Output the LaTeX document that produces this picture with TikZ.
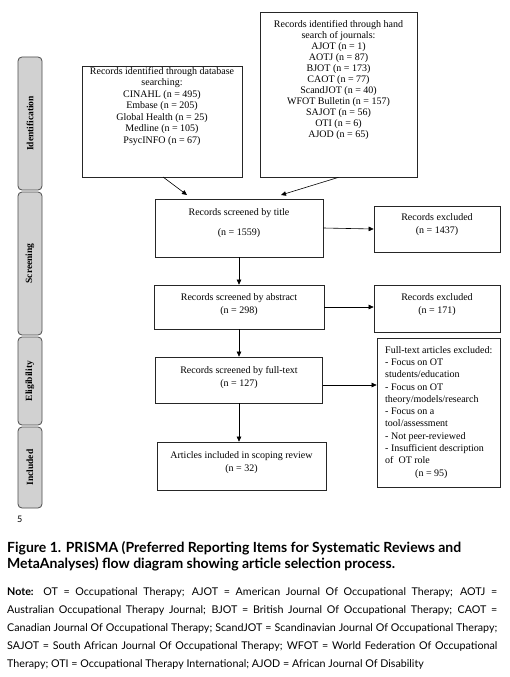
\documentclass[tikz,border=0pt]{standalone}
\usepackage{fontspec}
\setmainfont{Liberation Serif}
\newfontfamily\capfont{Lato}
\usetikzlibrary{arrows.meta}
\begin{document}
\begin{tikzpicture}[x=1pt,y=-1pt,
 box/.style={draw=black!85, line width=0.7pt, fill=white, inner sep=0pt},
 txt/.style={align=center, inner sep=0pt, font=\fontsize{10}{11.5}\selectfont},
 bar/.style={draw=black!70, fill=black!18, rounded corners=4pt, line width=0.8pt, minimum width=24pt, inner sep=0pt},
 barlabel/.style={rotate=90, inner sep=0pt, font=\bfseries\fontsize{9.5}{10}\selectfont},
 arr/.style={-{Triangle[length=5pt,width=4.5pt]}, line width=0.6pt}
]
\useasboundingbox[fill=white] (0,0) rectangle (509,677);

% side bars
\node[bar, minimum height=133pt] (bid) at (30,123.5) {};
\node[bar, minimum height=143pt] (bsc) at (30,263.5) {};
\node[bar, minimum height=88pt] (bel) at (30,381) {};
\node[bar, minimum height=81pt] (bin) at (30,467.5) {};
\node[barlabel] (lid) at (bid.center) {Identification};
\node[barlabel] (lsc) at (bsc.center) {Screening};
\node[barlabel] (lel) at (bel.center) {Eligibility};
\node[barlabel] (lin) at (bin.center) {Included};

% boxes
\node[box, minimum width=160pt, minimum height=111pt] (db) at (162,121.5) {};
\node[txt, anchor=north] (dbt) at (162,67) {Records identified through database\\searching:\\CINAHL (n = 495)\\Embase (n = 205)\\Global Health (n = 25)\\Medline (n = 105)\\PsycINFO (n = 67)};

\node[box, minimum width=157pt, minimum height=165pt] (hand) at (338.5,94.5) {};
\node[txt, anchor=north, font=\fontsize{10}{11}\selectfont] (handt) at (338.5,20) {Records identified through hand\\search of journals:\\AJOT (n = 1)\\AOTJ (n = 87)\\BJOT (n = 173)\\CAOT (n = 77)\\ScandJOT (n = 40)\\WFOT Bulletin (n = 157)\\SAJOT (n = 56)\\OTI (n = 6)\\AJOD (n = 65)};

\node[box, minimum width=168pt, minimum height=58pt] (title) at (239,228) {};
\node[txt, font=\fontsize{10}{20}\selectfont] (titlet) at (239,223) {Records screened by title\\(n = 1559)};

\node[box, minimum width=126pt, minimum height=46pt] (ex1) at (437,229) {};
\node[txt, font=\fontsize{10}{13}\selectfont] (ex1t) at (437,225) {Records excluded\\(n = 1437)};

\node[box, minimum width=170pt, minimum height=44pt] (abs) at (239,307) {};
\node[txt, font=\fontsize{10}{13}\selectfont] (abst) at (239,305) {Records screened by abstract\\(n = 298)};

\node[box, minimum width=126pt, minimum height=47pt] (ex2) at (437,308.5) {};
\node[txt, font=\fontsize{10}{13}\selectfont] (ex2t) at (437,305) {Records excluded\\(n = 171)};

\node[box, minimum width=167pt, minimum height=46pt] (ft) at (239,380) {};
\node[txt, font=\fontsize{10}{13}\selectfont] (ftt) at (239,378) {Records screened by full-text\\(n = 127)};

\node[box, minimum width=123pt, minimum height=149pt] (ex3) at (438.5,412.5) {};
\node[txt, anchor=north west, align=left, font=\fontsize{10}{12.3}\selectfont] (ex3t) at (385,346) {Full-text articles excluded:\\- Focus on OT\\students/education\\- Focus on OT\\theory/models/research\\- Focus on a\\tool/assessment\\- Not peer-reviewed\\- Insufficient description\\of\ \ OT role\\\hspace*{30pt}(n = 95)};

\node[box, minimum width=169pt, minimum height=48pt] (inc) at (241.5,466) {};
\node[txt, font=\fontsize{10}{13}\selectfont] (inct) at (241.5,463) {Articles included in scoping review\\(n = 32)};

% arrows
\coordinate (t1) at (187,195);
\coordinate (t2) at (281,195);
\coordinate (fa) at (323,385);
\draw[arr] (163,177) -- (t1);
\draw[arr] (hand.south) -- (t2);
\draw[arr] (title.east) -- (ex1.west);
\draw[arr] (abs.east) -- (ex2.west |- abs.east);
\draw[arr] (fa) -- (ex3.west |- fa);
\draw[arr] (title.south) -- (title.south |- abs.north);
\draw[arr] (abs.south) -- (abs.south |- ft.north);
\draw[arr] (ft.south) -- (ft.south |- inc.north);

% page number and caption
\node[anchor=west, inner sep=0pt, font=\capfont\fontsize{9}{10}\selectfont] (pg) at (17,519) {5};
\node[anchor=north west, inner sep=0pt, align=left, font=\capfont\bfseries\fontsize{14}{16.5}\selectfont] (cap) at (7,541) {Figure 1. PRISMA (Preferred Reporting Items for Systematic Reviews and\\MetaAnalyses) flow diagram showing article selection process.};
\node[anchor=north west, inner sep=0pt, text width=490pt, align=justify, font=\capfont\fontsize{10.7}{18}\selectfont] (note) at (7,587) {\textbf{Note:} OT = Occupational Therapy; AJOT = American Journal Of Occupational Therapy; AOTJ =\linebreak Australian Occupational Therapy Journal; BJOT = British Journal Of Occupational Therapy; CAOT =\linebreak Canadian Journal Of Occupational Therapy; ScandJOT = Scandinavian Journal Of Occupational Therapy;\linebreak SAJOT = South African Journal Of Occupational Therapy; WFOT = World Federation Of Occupational\linebreak Therapy; OTI = Occupational Therapy International; AJOD = African Journal Of Disability};
\end{tikzpicture}
\end{document}
